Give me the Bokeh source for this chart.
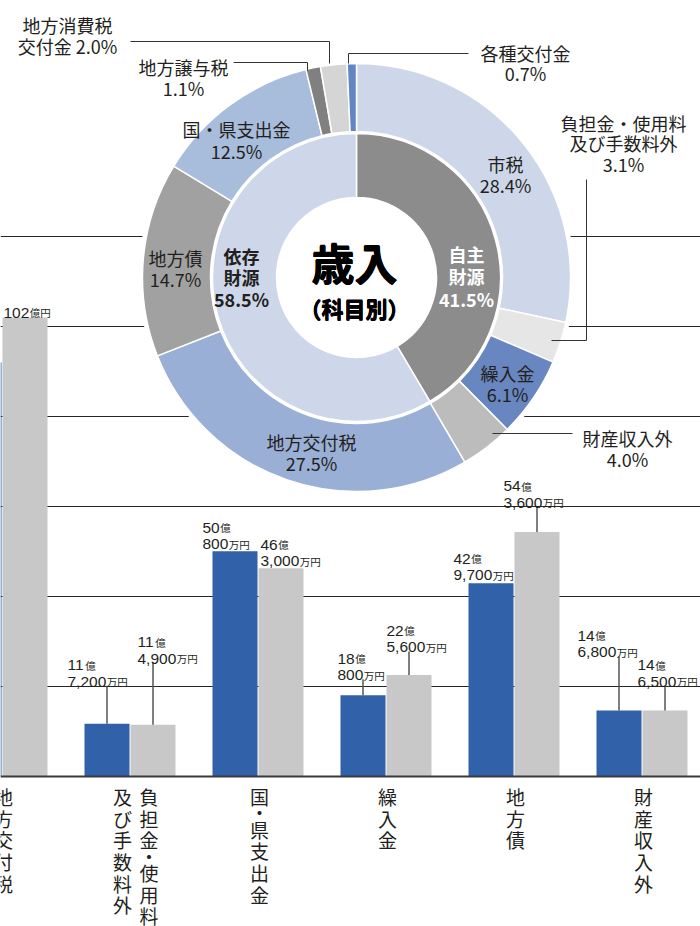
import math
from bokeh.plotting import figure
from bokeh.models import ColumnDataSource, FixedTicker, Range1d, Span
from bokeh.embed import file_html
from bokeh.resources import INLINE
from bokeh.core.properties import value

# ---------------- data ----------------
categories = ["地方交付税", "負担金・使用料\n及び手数料外", "国・県支出金", "繰入金", "地方債", "財産収入外"]
blue_oku = [92.0, 11.72, 50.08, 18.08, 42.97, 14.68]     # 億円 (first value estimated, its label is off-picture)
gray_oku = [102.0, 11.49, 46.30, 22.56, 54.36, 14.65]    # 億円
blue_labelled = [False, True, True, True, True, True]
grid_values = [20, 40, 60, 80, 100, 120]

ring_names = ["市税", "負担金・使用料\n及び手数料外", "繰入金", "財産収入外", "地方交付税",
              "地方債", "国・県支出金", "地方譲与税", "地方消費税\n交付金", "各種交付金"]
ring_pct = [28.4, 3.1, 6.1, 4.0, 27.5, 14.7, 12.5, 1.1, 2.0, 0.7]
core_names = ["自主\n財源", "依存\n財源"]
core_pct = [41.5, 58.5]
title_main = "歳入"
title_sub = "（科目別）"

# ---------------- layout / styles ----------------
W, H = 700, 926
GX0, GDX = 1.5, 128.0      # px of group 0 centre, px per group
BASE, PPU = 776.0, 4.5     # px of zero line, px per 億円


def X(px):
    return (px - GX0) / GDX


def Y(py):
    return (BASE - py) / PPU


def fs(px):
    return f"{px:.1f}px"


JP = value("Noto Sans CJK JP")
LAT = value("Liberation Sans")
INK = "#231f20"
BLUE = "#3161a9"
GRAY = "#c8c8c8"
ring_colors = ["#cdd7e9", "#e6e6e6", "#6886bf", "#bcbcbc", "#9aafd5",
               "#a1a1a1", "#a8bcdc", "#808080", "#d5d5d5", "#6285c4"]
core_colors = ["#8c8c8c", "#cdd7e9"]
core_text_colors = ["white", INK]

# label layout (pixels)
ring_label_pos = [(505, 163, 21), (623, 122, 20.5), (507, 372, 21), (627, 437, 21), (311, 441, 21),
                  (175, 257, 21), (236, 128, 22), (183, 66, 21), (67, 24, 21), (525, 52, 20)]
ring_pct_inline = [False] * 8 + [True, False]
core_label_pos = [(466, 253, 22.5), (241, 255, 21.5)]
ring_leaders = [
    [(586, 179), (586, 340), (551, 340)],
    [(572, 433), (492, 433)],
    [(233, 62), (307, 62), (307, 70)],
    [(130, 41), (329, 41), (329, 63)],
    [(468, 53), (348, 53), (348, 63)],
]
blue_lab_dx = [0, -17, -10, -3, -15, -19]
blue_lab_lift = [0, 42, 7, 20, 8, 58]
gray_lab_dx = [1, 7, 2, 0, -11, -5]
gray_lab_lift = [5, 66, 7, 27.5, 29, 29]
cat_col_offsets = {1: [1.5], 2: [19.0, -7.5]}
CHAR_TOP, PITCH, DOT_PITCH = 785.0, 21.7, 11.0
DIGIT_PX = 15.5

# ---------------- figure ----------------
p = figure(width=W, height=H, x_range=Range1d(X(0), X(W)), y_range=Range1d(Y(H), Y(0)),
           output_backend="svg", toolbar_location=None, min_border=0,
           x_axis_location=None, y_axis_location=None,
           outline_line_color=None, background_fill_color="white", border_fill_color="white")
p.xgrid.visible = False
p.ygrid.ticker = FixedTicker(ticks=grid_values)
p.ygrid.grid_line_color = "#262626"
p.ygrid.grid_line_width = 1

# bars
n = len(categories)
idx = list(range(n))
bw = 45.0 / GDX
off = 23.0 / GDX
p.vbar(x=[i - off for i in idx], top=blue_oku, bottom=0, width=bw, fill_color=BLUE, line_color=None)
p.vbar(x=[i + off for i in idx], top=gray_oku, bottom=0, width=bw, fill_color=GRAY, line_color=None)
p.add_layout(Span(location=0, dimension="width", line_color="#3a3a3a", line_width=2))

# bar value labels
dig_x, dig_y, dig_t = [], [], []
unit_x, unit_y, unit_t = [], [], []
lead_x0, lead_y0, lead_y1 = [], [], []


def digits_width(s):
    return DIGIT_PX * sum(0.278 if c == "," else 0.556 for c in s)


def add_bar_label(v, left_px, center_px, dx, lift):
    top_px = BASE - PPU * v
    base2 = top_px - lift
    lx = left_px + dx
    total = round(v * 10000)
    oku, man = divmod(total, 10000)
    if man == 0:
        lines = [(str(oku), "億円", base2)]
    else:
        lines = [(str(oku), "億", base2 - 16.5), (f"{man:,}", "万円", base2)]
    for d, u, b in lines:
        dig_x.append(X(lx)); dig_y.append(Y(b)); dig_t.append(d)
        unit_x.append(X(lx + digits_width(d) + 0.5)); unit_y.append(Y(b)); unit_t.append(u)
    if lift > 12:
        lead_x0.append(X(center_px)); lead_y0.append(Y(base2 + 4)); lead_y1.append(v)


for i in idx:
    c = GX0 + GDX * i
    if blue_labelled[i]:
        add_bar_label(blue_oku[i], c - 45.5, c - 23.0, blue_lab_dx[i], blue_lab_lift[i])
    add_bar_label(gray_oku[i], c + 0.5, c + 23.0, gray_lab_dx[i], gray_lab_lift[i])

p.segment(x0=lead_x0, y0=lead_y0, x1=lead_x0, y1=lead_y1, line_color="#555555", line_width=1.5)
p.text(x=dig_x, y=dig_y, text=dig_t, text_font=LAT, text_font_size=fs(DIGIT_PX), text_color=INK,
       text_align="left", text_baseline="alphabetic")
p.text(x=unit_x, y=unit_y, text=unit_t, text_font=JP, text_font_size=fs(10.5), text_color=INK,
       text_align="left", text_baseline="alphabetic")

# category labels (vertical, one character per glyph)
cx_l, cy_l, ct_l = [], [], []
for i, name in enumerate(categories):
    cols = name.split("\n")
    for col, dx in zip(cols, cat_col_offsets[len(cols)]):
        pos = CHAR_TOP
        for ch in col:
            adv = DOT_PITCH if ch == "・" else PITCH
            cx_l.append(X(GX0 + GDX * i + dx)); cy_l.append(Y(pos + adv / 2)); ct_l.append(ch)
            pos += adv
p.text(x=cx_l, y=cy_l, text=ct_l, text_font=JP, text_font_size=fs(19), text_color=INK,
       text_align="center", text_baseline="middle")

# ---------------- donut ----------------
dcx, dcy = X(356), Y(277)


def angles(pcts):
    tot = sum(pcts)
    cum = 0.0
    s, e = [], []
    for v in pcts:
        a_top = math.pi / 2 - 2 * math.pi * cum / tot
        cum += v
        a_bot = math.pi / 2 - 2 * math.pi * cum / tot
        s.append(a_bot); e.append(a_top)
    return s, e


p.annulus(x=[dcx], y=[dcy], inner_radius=0, outer_radius=218,
          inner_radius_units="screen", outer_radius_units="screen",
          fill_color="white", line_color=None)

rs, re_ = angles(ring_pct)
ring_src = ColumnDataSource(dict(start=rs, end=re_, color=ring_colors))
p.annular_wedge(x=dcx, y=dcy, inner_radius=146, outer_radius=214,
                inner_radius_units="screen", outer_radius_units="screen",
                start_angle="start", end_angle="end", fill_color="color",
                line_color="white", line_width=1.5, source=ring_src)

cs, ce = angles(core_pct)
core_src = ColumnDataSource(dict(start=cs, end=ce, color=core_colors))
p.annular_wedge(x=dcx, y=dcy, inner_radius=80, outer_radius=144,
                inner_radius_units="screen", outer_radius_units="screen",
                start_angle="start", end_angle="end", fill_color="color",
                line_color="white", line_width=1.5, source=core_src)

# leaders of the donut
p.multi_line(xs=[[X(a) for a, b in pts] for pts in ring_leaders],
             ys=[[Y(b) for a, b in pts] for pts in ring_leaders],
             line_color="#333333", line_width=1)

# ring labels
rx, ry, rt = [], [], []
for name, pct, (px, py, ls), inline in zip(ring_names, ring_pct, ring_label_pos, ring_pct_inline):
    lines = name.split("\n")
    if inline:
        lines[-1] += f" {pct:.1f}%"
    else:
        lines.append(f"{pct:.1f}%")
    for k, t in enumerate(lines):
        rx.append(X(px)); ry.append(Y(py + k * ls)); rt.append(t)
p.text(x=rx, y=ry, text=rt, text_font=JP, text_font_size=fs(18), text_color=INK,
       text_align="center", text_baseline="middle")

# core labels
kx, ky, kt, kc = [], [], [], []
for name, pct, (px, py, ls), col in zip(core_names, core_pct, core_label_pos, core_text_colors):
    lines = name.split("\n") + [f"{pct:.1f}%"]
    for k, t in enumerate(lines):
        kx.append(X(px)); ky.append(Y(py + k * ls)); kt.append(t); kc.append(col)
p.text(x=kx, y=ky, text=kt, text_color=kc, text_font=JP, text_font_size=fs(18),
       text_font_style="bold", text_align="center", text_baseline="middle")

# centre title (drawn with tiny offsets for a heavier weight)
for ox, oy in [(-0.6, 0), (0.6, 0), (0, -0.5), (0, 0.5)]:
    p.text(x=[X(354)], y=[Y(261)], text=[title_main], text_font=JP, text_font_size=fs(43),
           text_font_style="bold", text_color="black", text_align="center", text_baseline="middle",
           x_offset=ox, y_offset=oy)
    p.text(x=[X(354)], y=[Y(307)], text=[title_sub], text_font=JP, text_font_size=fs(22),
           text_font_style="bold", text_color="black", text_align="center", text_baseline="middle",
           x_offset=ox * 0.6, y_offset=oy * 0.6)

open("out.html", "w").write(file_html(p, INLINE))
